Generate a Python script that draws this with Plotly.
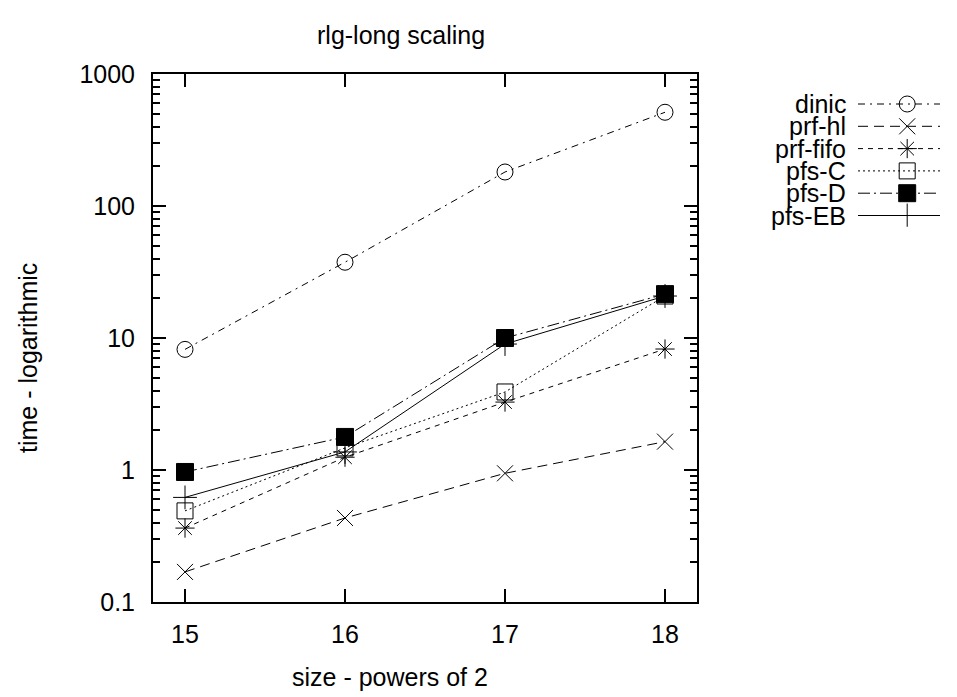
import plotly.graph_objects as go

# ---- data ----
sizes = [15, 16, 17, 18]
series_names = ["dinic", "prf-hl", "prf-fifo", "pfs-C", "pfs-D", "pfs-EB"]
dinic = [8.2, 37.5, 181, 513]
prf_hl = [0.169, 0.433, 0.944, 1.64]
prf_fifo = [0.363, 1.25, 3.27, 8.25]
pfs_c = [0.49, 1.47, 3.9, 20.8]
pfs_d = [0.966, 1.78, 10.0, 21.5]
pfs_eb = [0.62, 1.37, 9.0, 20.8]
y_tick_vals = [0.1, 1, 10, 100, 1000]
y_tick_text = ["0.1", "1", "10", "100", "1000"]
x_tick_vals = [15, 16, 17, 18]

values = [dinic, prf_hl, prf_fifo, pfs_c, pfs_d, pfs_eb]
dashes = ["7px,5px,2px,5px", "10px,6px", "5px,5px", "2px,3px", "12px,4px,2px,4px", "solid"]
symbols = ["circle-open", "x-thin-open", "asterisk-open", "square-open", "square", "cross-thin-open"]
msizes = [16, 16, 16, 16, 17, 17]

FONT = "Liberation Sans, Arial, Helvetica, sans-serif"
FS = 25
W, H = 957, 697
L, R, T, B = 153, 10, 74, 95
PW, PH = W - L - R, H - T - B
MAIN_RIGHT = 697

def px_x(p):
    return (p - L) / PW

def px_y(p):
    return (H - B - p) / PH

fig = go.Figure()

for name, vals, d, s, ms in zip(series_names, values, dashes, symbols, msizes):
    fig.add_trace(go.Scatter(
        x=sizes, y=vals, mode="lines+markers", name=name,
        line=dict(color="black", width=1, dash=d),
        marker=dict(symbol=s, size=ms, color="black", line=dict(color="black", width=1)),
        showlegend=False, xaxis="x", yaxis="y",
    ))

# custom gnuplot-style key (text right-aligned, sample to the right)
for i, (name, d, s, ms) in enumerate(zip(series_names, dashes, symbols, msizes)):
    fig.add_trace(go.Scatter(
        x=[0, 1], y=[i, i], mode="lines",
        line=dict(color="black", width=1, dash=d),
        showlegend=False, xaxis="x2", yaxis="y2", hoverinfo="skip",
    ))
    fig.add_trace(go.Scatter(
        x=[0.6], y=[i], mode="markers",
        marker=dict(symbol=s, size=ms, color="black", line=dict(color="black", width=1)),
        showlegend=False, xaxis="x2", yaxis="y2", hoverinfo="skip",
    ))
    fig.add_annotation(
        x=px_x(848), xref="paper", y=i, yref="y2", text=name, showarrow=False,
        xanchor="right", yanchor="middle", font=dict(family=FONT, size=FS, color="black"),
    )

row0, row_step = 104, 22.3
n = len(series_names)
key_top = row0 - row_step / 2
key_bot = row0 + row_step * (n - 0.5)

fig.update_layout(
    width=W, height=H,
    margin=dict(l=L, r=R, t=T, b=B),
    paper_bgcolor="white", plot_bgcolor="white",
    font=dict(family=FONT, size=FS, color="black"),
    xaxis=dict(
        domain=[0, (MAIN_RIGHT - L) / PW], range=[14.8, 18.2],
        tickvals=x_tick_vals, ticks="inside", ticklen=13, tickwidth=2, tickcolor="black",
        showline=True, linewidth=2, linecolor="black", mirror="ticks",
        showgrid=False, zeroline=False, ticklabelstandoff=9,
        tickfont=dict(family=FONT, size=FS, color="black"),
    ),
    yaxis=dict(
        type="log", range=[-1, 3],
        tickvals=y_tick_vals, ticktext=y_tick_text,
        ticks="inside", ticklen=13, tickwidth=2, tickcolor="black",
        minor=dict(ticks="inside", ticklen=7, tickwidth=2, tickcolor="black",
                   tickvals=[k * 10 ** e for e in range(-1, 3) for k in range(2, 10)], showgrid=False),
        showline=True, linewidth=2, linecolor="black", mirror="ticks",
        showgrid=False, zeroline=False, ticklabelstandoff=11,
        tickfont=dict(family=FONT, size=FS, color="black"),
    ),
    xaxis2=dict(domain=[px_x(858), px_x(940)], range=[0, 1], visible=False, anchor="y2"),
    yaxis2=dict(domain=[px_y(key_bot), px_y(key_top)], range=[n - 0.5, -0.5], visible=False, anchor="x2"),
)

fig.add_annotation(x=px_x(401), y=px_y(35), xref="paper", yref="paper", text="rlg-long scaling",
                   showarrow=False, xanchor="center", yanchor="middle",
                   font=dict(family=FONT, size=FS, color="black"))
fig.add_annotation(x=px_x(390), y=px_y(677), xref="paper", yref="paper", text="size - powers of 2",
                   showarrow=False, xanchor="center", yanchor="middle",
                   font=dict(family=FONT, size=FS, color="black"))
fig.add_annotation(x=px_x(28), y=px_y(358), xref="paper", yref="paper", text="time - logarithmic",
                   showarrow=False, xanchor="center", yanchor="middle", textangle=-90,
                   font=dict(family=FONT, size=FS, color="black"))

fig.write_html("out.html")
